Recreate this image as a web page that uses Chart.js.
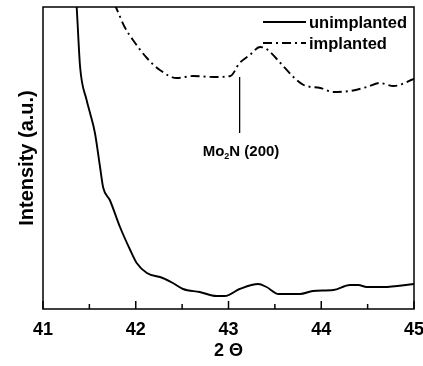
<!DOCTYPE html>
<html>
<head>
<meta charset="utf-8">
<script src="https://cdn.jsdelivr.net/npm/chart.js@4/dist/chart.umd.min.js"></script>
<style>
html,body{margin:0;padding:0;background:#fff}
#wrap{width:423px;height:366px}
</style>
</head>
<body>
<div id="wrap"><canvas id="c" width="423" height="366"></canvas></div>
<script>
// 2theta positions and intensities (arbitrary units)
const unimpX=[41.34,41.363,41.40,41.47,41.507,41.56,41.615,41.65,41.72,41.83,41.94,42.01,42.12,42.29,42.40,42.51,42.69,42.87,42.96,43.12,43.32,43.41,43.54,43.77,43.91,44.13,44.31,44.40,44.49,44.67,45.0]
const unimpY=[330,302,242,209,196,176,142,121,109,82,59,46,36,31,26,20,17,13,13,20,25,22,15,15,18,19,24,24,22,22,25]
const impX=[41.77,41.79,41.88,41.97,42.12,42.26,42.44,42.62,42.84,43.02,43.12,43.23,43.34,43.41,43.56,43.70,43.81,43.99,44.13,44.31,44.49,44.63,44.78,45.0]
const impY=[305,301,282,269,251,239,231,233,232,233,246,254,262,260,246,232,224,221,217,218,222,226,223,230]
const seriesNames=["unimplanted","implanted"]
const xTicks=[41,42,43,44,45]
const peakX=43.12
const peakTop=232
const peakBottom=176

const toPts=(xs,ys)=>xs.map((x,i)=>({x:x,y:ys[i]}))
const dashDot=[9,4,2,4]
const FONT="'Liberation Sans', Arial, sans-serif"

const frame={
id:"frame",
afterDatasetsDraw(chart){
const ctx=chart.ctx
const a=chart.chartArea
const xs=chart.scales.x
ctx.save()
ctx.strokeStyle="#000"
ctx.lineWidth=1.5
ctx.strokeRect(a.left,a.top,a.right-a.left,a.bottom-a.top)
// inward ticks on bottom
for(let v=41;v<=45.001;v+=0.5){
const px=xs.getPixelForValue(v)
const len=Number.isInteger(v)?8:5
ctx.beginPath()
ctx.moveTo(px,a.bottom)
ctx.lineTo(px,a.bottom-len)
ctx.stroke()
}
// peak marker
const ys=chart.scales.y
const px=xs.getPixelForValue(peakX)
ctx.lineWidth=1.3
ctx.beginPath()
ctx.moveTo(px,ys.getPixelForValue(peakTop))
ctx.lineTo(px,ys.getPixelForValue(peakBottom))
ctx.stroke()
ctx.fillStyle="#000"
ctx.textBaseline="alphabetic"
ctx.font="bold 15px "+FONT
let tx=px-37
const ty=ys.getPixelForValue(peakBottom)+23
ctx.fillText("Mo",tx,ty)
tx+=ctx.measureText("Mo").width
ctx.font="bold 9px "+FONT
ctx.fillText("2",tx,ty+3)
tx+=ctx.measureText("2").width
ctx.font="bold 15px "+FONT
ctx.fillText("N (200)",tx,ty)
// legend
ctx.font="bold 16.5px "+FONT
ctx.textBaseline="middle"
const rows=[{y:22,dash:[]},{y:43,dash:dashDot}]
rows.forEach((r,i)=>{
ctx.lineWidth=1.8
ctx.setLineDash(r.dash)
ctx.beginPath()
ctx.moveTo(263,r.y)
ctx.lineTo(306,r.y)
ctx.stroke()
ctx.setLineDash([])
ctx.fillText(seriesNames[i],309,r.y+1)
})
ctx.restore()
}
}

new Chart(document.getElementById("c"),{
type:"line",
data:{datasets:[
{label:seriesNames[0],data:toPts(unimpX,unimpY),borderColor:"#000",borderWidth:1.9,pointRadius:0,cubicInterpolationMode:"monotone"},
{label:seriesNames[1],data:toPts(impX,impY),borderColor:"#000",borderWidth:1.9,borderDash:dashDot,pointRadius:0,cubicInterpolationMode:"monotone"}
]},
options:{
responsive:false,
animation:false,
layout:{padding:{top:7,right:9,left:0,bottom:0}},
plugins:{legend:{display:false},tooltip:{enabled:false}},
scales:{
x:{type:"linear",min:41,max:45,
afterBuildTicks(s){s.ticks=xTicks.map(v=>({value:v}))},
grid:{display:false,drawTicks:false},border:{display:false},
ticks:{color:"#000",padding:10,maxRotation:0,autoSkip:false,font:{family:FONT,size:18,weight:"bold"}},
title:{display:true,text:"2 Θ",color:"#000",padding:{top:6,left:10},font:{family:FONT,size:18,weight:"bold"}},
afterFit(s){s.height=57;s.paddingLeft=0;s.paddingRight=0}
},
y:{min:0,max:302,
grid:{display:false,drawTicks:false},border:{display:false},
ticks:{display:false},
title:{display:true,text:"Intensity (a.u.)",color:"#000",padding:{top:15},font:{family:FONT,size:20,weight:"bold"}},
afterFit(s){s.width=43;s.paddingTop=0;s.paddingBottom=0}
}
}
},
plugins:[frame]
})
</script>
</body>
</html>
